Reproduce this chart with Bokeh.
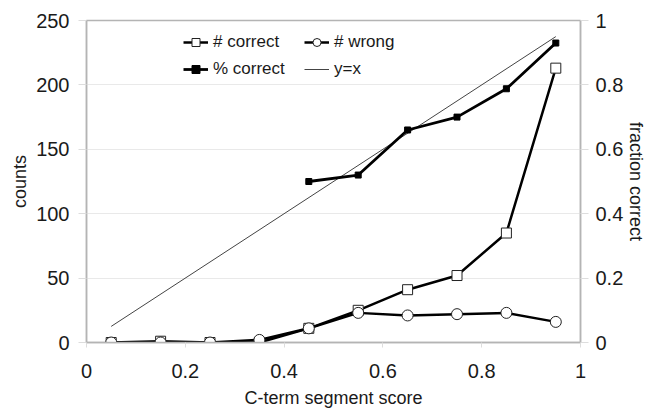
from bokeh.plotting import figure
from bokeh.models import Range1d, LinearAxis, FixedTicker, CustomJSTickFormatter, Legend, LegendItem
from bokeh.embed import file_html
from bokeh.resources import INLINE

# data
score = [0.05, 0.15, 0.25, 0.35, 0.45, 0.55, 0.65, 0.75, 0.85, 0.95]
n_correct = [0, 1, 0, 0, 11, 25, 41, 52, 85, 213]
n_wrong = [0, 0, 0, 2, 11, 23, 21, 22, 23, 16]
pct_x = [0.45, 0.55, 0.65, 0.75, 0.85, 0.95]
pct_correct = [0.50, 0.52, 0.66, 0.70, 0.788, 0.93]
yx_x = [0.05, 0.95]
yx_y = [0.05, 0.95]
x_ticks = [0, 0.2, 0.4, 0.6, 0.8, 1]
left_ticks = [0, 50, 100, 150, 200, 250]
right_ticks = [0, 0.2, 0.4, 0.6, 0.8, 1]

FONT = "Liberation Sans"
GRAY = "#b4b4b4"
TXT = "#1a1a1a"

p = figure(width=652, height=410, output_backend="svg", toolbar_location=None,
           x_range=Range1d(0, 1), y_range=Range1d(0, 250),
           min_border_left=86, min_border_right=72, min_border_top=20, min_border_bottom=67)
p.extra_y_ranges = {"frac": Range1d(0, 1)}

fmt = CustomJSTickFormatter(code="return String(Math.round(tick*10)/10);")

p.outline_line_color = GRAY
p.outline_line_width = 1.5
p.background_fill_color = "white"
p.border_fill_color = "white"

p.xgrid.grid_line_color = None
p.ygrid.grid_line_color = "#e9e9e9"
p.ygrid.ticker = FixedTicker(ticks=left_ticks)

# x axis
xa = p.xaxis[0]
xa.ticker = FixedTicker(ticks=x_ticks)
xa.formatter = fmt
xa.axis_label = "C-term segment score"

ya = p.yaxis[0]
ya.ticker = FixedTicker(ticks=left_ticks)
ya.axis_label = "counts"

ra = LinearAxis(y_range_name="frac", ticker=FixedTicker(ticks=right_ticks), formatter=fmt,
                axis_label="fraction correct")
p.add_layout(ra, "right")

for ax in (xa, ya, ra):
    ax.axis_line_color = GRAY
    ax.axis_line_width = 1.5
    ax.major_tick_line_color = "#dddddd"
    ax.major_tick_in = 0
    ax.minor_tick_line_color = None
    ax.major_label_text_font = FONT
    ax.major_label_text_font_size = "20px"
    ax.major_label_text_color = TXT
    ax.axis_label_text_font = FONT
    ax.axis_label_text_font_size = "18px"
    ax.axis_label_text_font_style = "normal"
    ax.axis_label_text_color = TXT

xa.major_tick_out = 5
xa.major_label_standoff = 16
xa.axis_label_standoff = 7
ya.major_tick_out = 8
ya.major_label_standoff = 9
ya.axis_label_standoff = 3
ra.major_tick_out = 8
ra.major_label_standoff = 7
ra.axis_label_standoff = 0

# series
yx_line = p.line(yx_x, yx_y, y_range_name="frac", line_color="#444444", line_width=1)

c_line = p.line(score, n_correct, line_color="black", line_width=2.5)
c_mk = p.scatter(score, n_correct, marker="square", size=10, fill_color="white",
                 line_color="#222222", line_width=1)

w_line = p.line(score, n_wrong, line_color="black", line_width=2.5)
w_mk = p.scatter(score, n_wrong, marker="circle", size=11, fill_color="white",
                 line_color="#222222", line_width=1)

pc_line = p.line(pct_x, pct_correct, y_range_name="frac", line_color="black", line_width=2.8)
pc_mk = p.scatter(pct_x, pct_correct, y_range_name="frac", marker="square", size=6,
                  fill_color="black", line_color="black")

legend = Legend(items=[
    LegendItem(label="# correct", renderers=[c_line, c_mk]),
    LegendItem(label="% correct", renderers=[pc_line, pc_mk]),
    LegendItem(label="# wrong", renderers=[w_line, w_mk]),
    LegendItem(label="y=x", renderers=[yx_line]),
], ncols=2, location=(97, 263))
legend.background_fill_alpha = 0
legend.border_line_color = None
legend.label_text_font = FONT
legend.label_text_font_size = "17px"
legend.label_text_color = TXT
legend.glyph_width = 25
legend.glyph_height = 20
legend.label_height = 20
legend.label_standoff = 5
legend.spacing = 7
legend.label_width = 84
legend.padding = 0
legend.margin = 0
p.add_layout(legend, "center")

open("out.html", "w").write(file_html(p, INLINE))
